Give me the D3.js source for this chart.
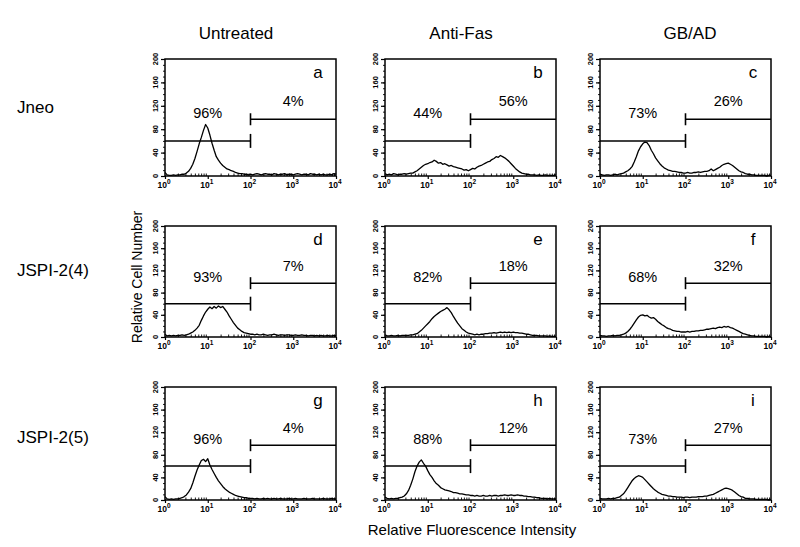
<!DOCTYPE html>
<html><head><meta charset="utf-8">
<script src="https://cdn.jsdelivr.net/npm/d3@7"></script>
<style>
body{margin:0;background:#fff}
text{font-family:"Liberation Sans",Arial,Helvetica,sans-serif;fill:#000}
</style></head>
<body><svg id="c" width="800" height="547"></svg>
<script>
// ---------- data ----------
const treatments = ["Untreated", "Anti-Fas", "GB/AD"];
const cellLines = ["Jneo", "JSPI-2(4)", "JSPI-2(5)"];
const panelLetters = ["a","b","c","d","e","f","g","h","i"];
const pctLeft  = ["96%","44%","73%","93%","82%","68%","96%","88%","73%"];
const pctRight = ["4%","56%","26%","7%","18%","32%","4%","12%","27%"];
const yTicks = [0, 40, 80, 120, 160, 200];
const xDecades = [0, 1, 2, 3, 4];
const gateLowCount = 60, gateHighCount = 97, gateSplit = 100;
const channelStep = 0.05; // histogram channels, log10 units, from 10^0 to 10^4

const counts_a = [6,2,1,1,2,1,2,2,3,3, 5,8,13,20,30,42,55,66,78,88, 82,70,56,44,33,27,22,18,15,12, 11,9,8,6,5,4,4,3,3,2, 3,2,3,4,3,2,3,4,3,3, 2,4,3,2,3,3,4,2,3,3, 2,3,4,3,2,3,3,2,4,3, 3,2,3,2,3,2,2,3,2,4, 3];
const counts_b = [4,2,3,2,4,3,2,3,3,4, 3,4,5,5,7,9,12,15,18,20, 21,23,24,27,25,22,23,20,21,19, 17,18,16,15,14,13,12,10,11,9, 11,13,12,15,17,18,20,22,24,25, 28,30,33,32,35,33,31,28,25,21, 17,13,10,7,5,4,3,3,2,2, 2,1,2,1,1,2,1,1,1,1, 2];
const counts_c = [3,2,1,2,2,1,2,3,2,3, 4,5,7,9,12,16,24,33,43,50, 55,58,57,52,44,38,31,26,21,17, 14,12,10,9,8,8,7,6,6,5, 5,6,5,5,6,6,7,6,7,8, 8,9,12,9,11,13,15,18,20,21, 22,20,18,15,12,9,7,6,4,3, 3,2,2,1,1,1,1,1,0,1, 1];
const counts_d = [5,2,3,2,3,2,3,3,4,3, 4,5,7,9,12,16,21,30,38,45, 50,54,51,55,52,56,53,55,50,45, 38,32,26,21,16,13,10,8,7,6, 5,5,4,5,4,4,5,4,3,4, 4,5,4,3,4,4,3,4,4,3, 3,4,3,3,4,3,3,2,3,3, 2,3,2,3,2,2,3,2,2,3, 2];
const counts_e = [4,2,2,3,2,2,3,2,3,3, 3,3,4,4,5,6,9,12,16,20, 24,28,33,37,40,43,46,48,50,53, 49,44,37,31,25,20,15,12,9,7, 6,5,4,5,4,5,5,6,6,7, 7,8,7,8,9,8,9,8,9,8, 9,8,8,7,7,6,5,5,4,3, 3,3,2,2,2,2,1,2,1,1, 1];
const counts_f = [3,2,2,1,2,2,3,2,3,3, 4,5,7,10,14,19,25,31,36,39, 40,38,39,36,34,35,32,28,25,22, 20,17,15,14,12,11,10,10,9,9, 9,10,9,10,10,11,11,12,12,13, 14,14,15,16,15,17,18,17,19,18, 19,17,16,14,12,10,8,6,5,4, 3,2,2,1,1,1,1,1,0,1, 0];
const counts_g = [6,2,1,2,1,2,2,3,4,6, 9,14,20,30,42,53,62,70,72,68, 73,62,54,47,40,34,29,24,20,17, 14,12,10,8,7,6,5,4,4,3, 3,3,2,3,2,2,3,2,3,2, 2,3,2,2,3,2,2,2,3,2, 2,3,2,2,2,3,2,2,2,3, 2,2,2,2,3,2,2,2,3,2, 2];
const counts_h = [5,3,2,3,2,3,3,4,5,7, 11,17,26,37,50,60,67,71,65,60, 52,45,40,34,29,26,22,20,18,17, 16,15,13,13,12,11,11,10,9,9, 8,8,7,8,7,7,8,7,7,8, 7,8,8,7,8,8,9,8,8,9, 8,8,9,8,8,7,7,6,6,5, 5,4,4,3,3,3,2,3,2,2, 2];
const counts_i = [3,2,2,2,3,2,3,3,4,5, 8,11,16,22,28,34,38,41,43,42, 40,36,32,28,24,20,17,14,12,10, 9,8,7,7,6,6,5,5,5,4, 5,5,4,5,5,5,6,6,6,7, 7,8,9,10,12,14,16,18,20,21, 20,19,17,14,11,8,6,5,3,3, 2,2,2,1,1,1,1,1,1,0, 1];
const allCounts = [counts_a,counts_b,counts_c,counts_d,counts_e,counts_f,counts_g,counts_h,counts_i];

// ---------- layout ----------
const svg = d3.select("#c");
const colX = [165, 385, 600], panelW = 171;
const rowY = [59, 226, 387], rowH = [117, 111, 113];
const titleX = [236, 461, 690];
const rowLabelY = [113, 276, 443];

treatments.forEach((t, c) => {
  svg.append("text").attr("x", titleX[c]).attr("y", 39).attr("text-anchor", "middle")
     .attr("font-size", 17).text(t);
});
cellLines.forEach((l, r) => {
  svg.append("text").attr("x", 17).attr("y", rowLabelY[r]).attr("font-size", 17).text(l);
});
svg.append("text").attr("transform", "translate(142,277) rotate(-90)").attr("text-anchor", "middle")
   .attr("font-size", 14).text("Relative Cell Number");
svg.append("text").attr("x", 472).attr("y", 535).attr("text-anchor", "middle")
   .attr("font-size", 15).text("Relative Fluorescence Intensity");

const minorX = [];
xDecades.slice(0, 4).forEach(d => { for (let m = 2; m <= 9; m++) minorX.push(m * Math.pow(10, d)); });
const majorX = xDecades.map(d => Math.pow(10, d));

cellLines.forEach((ln, r) => treatments.forEach((t, c) => {
  const k = r * 3 + c;
  const H = rowH[r];
  const g = svg.append("g").attr("transform", `translate(${colX[c]},${rowY[r]})`);
  const x = d3.scaleLog().domain([1, 1e4]).range([0, panelW]);
  const y = d3.scaleLinear().domain([0, 200]).range([H, 0]);

  // histogram
  const lineGen = d3.line().x((d, i) => x(Math.pow(10, i * channelStep))).y(d => y(d));
  g.append("path").attr("d", lineGen(allCounts[k])).attr("fill", "none")
   .attr("stroke", "#000").attr("stroke-width", 1.3).attr("stroke-linejoin", "round");

  // frame
  g.append("rect").attr("width", panelW).attr("height", H).attr("fill", "none")
   .attr("stroke", "#000").attr("stroke-width", 1.5);

  // y minor ticks
  const yMinor = g.append("g").call(d3.axisLeft(y).tickValues(d3.range(0, 201, 10)).tickSize(2).tickFormat(""));
  yMinor.select(".domain").remove();
  yMinor.selectAll("line").attr("stroke-width", 0.9);
  // y major ticks
  const yAx = g.append("g").call(d3.axisLeft(y).tickValues(yTicks).tickSize(4));
  yAx.select(".domain").remove();
  yAx.selectAll("line").attr("stroke-width", 1.2);
  yAx.selectAll("text").remove();
  yTicks.forEach(v => {
    g.append("text").attr("transform", `translate(-7,${y(v)}) rotate(-90)`).attr("text-anchor", "middle")
     .attr("font-size", 7.5).attr("font-weight", "bold").text(v);
  });

  // x minor ticks (inward)
  const xMinor = g.append("g").attr("transform", `translate(0,${H})`)
    .call(d3.axisTop(x).tickValues(minorX).tickSize(2.5).tickFormat(""));
  xMinor.select(".domain").remove();
  xMinor.selectAll("line").attr("stroke-width", 0.9);
  // x major ticks
  const xAx = g.append("g").attr("transform", `translate(0,${H})`)
    .call(d3.axisBottom(x).tickValues(majorX).tickSize(3).tickFormat(""));
  xAx.select(".domain").remove();
  xAx.selectAll("line").attr("stroke-width", 1.2);
  xDecades.forEach(d => {
    const tx = g.append("text").attr("x", x(Math.pow(10, d)) - 1).attr("y", H + 11.5)
      .attr("text-anchor", "middle").attr("font-size", 8.5).attr("font-weight", "bold");
    tx.append("tspan").text("10");
    tx.append("tspan").attr("dy", -4).attr("font-size", 6.5).text(d);
  });

  // gates
  const gate = (x0, x1, v) => {
    g.append("line").attr("x1", x(x0)).attr("x2", x(x1)).attr("y1", y(v)).attr("y2", y(v))
     .attr("stroke", "#000").attr("stroke-width", 1.5);
  };
  gate(1, gateSplit, gateLowCount);
  gate(gateSplit, 1e4, gateHighCount);
  [gateLowCount, gateHighCount].forEach((v, j) => {
    const hw = j === 0 ? 7 : 6;
    g.append("line").attr("x1", x(gateSplit)).attr("x2", x(gateSplit))
     .attr("y1", y(v) - hw).attr("y2", y(v) + hw).attr("stroke", "#000").attr("stroke-width", 1.6);
  });

  // labels
  g.append("text").attr("x", x(10)).attr("y", y(108) + 5).attr("text-anchor", "middle")
   .attr("font-size", 14.5).text(pctLeft[k]);
  g.append("text").attr("x", x(1000)).attr("y", y(128) + 5).attr("text-anchor", "middle")
   .attr("font-size", 14.5).text(pctRight[k]);
  g.append("text").attr("x", panelW - 18).attr("y", 19).attr("text-anchor", "middle")
   .attr("font-size", 17).text(panelLetters[k]);
}));
</script>
</body></html>
